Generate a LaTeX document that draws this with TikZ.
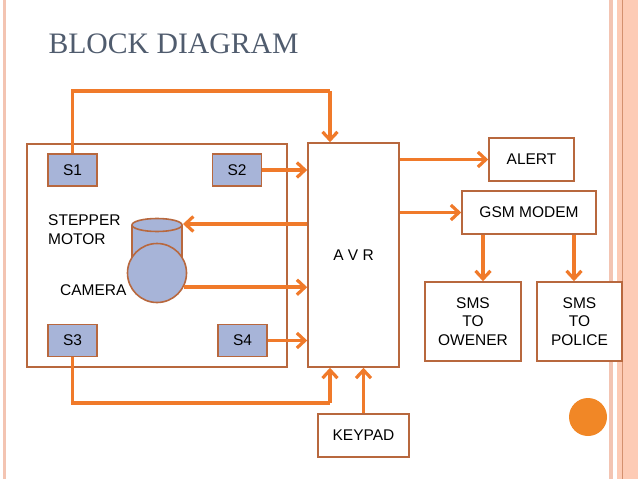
\documentclass[tikz,border=0pt]{standalone}
\usepackage{fontspec}
\setmainfont{Liberation Sans}
\newfontfamily\titlefont{Liberation Serif}
\usetikzlibrary{arrows.meta}
\definecolor{wireOrange}{HTML}{F07A2A}
\definecolor{boxBrown}{HTML}{B8683E}
\definecolor{sensorBlue}{HTML}{A7B4D8}
\definecolor{titleGrey}{HTML}{505C6E}
\definecolor{bandPink}{HTML}{FDCBB5}
\definecolor{linePink}{HTML}{F3C4B2}
\begin{document}
\begin{tikzpicture}
[x=1pt,y=-1pt,
  blockDecorate/.style={shape=rectangle,draw=boxBrown,line width=1.6pt,fill=white,
    inner sep=0pt,align=center,font=\fontsize{15.5}{18.5}\selectfont},%
  sensorDecorate/.style={blockDecorate,fill=sensorBlue,minimum width=49pt,minimum height=32pt},%
  wireDecorate/.style={draw=wireOrange,line width=3.6pt,
    -{Straight Barb[length=8pt,width=15pt,line width=3.2pt]}},%
  labelDecorate/.style={inner sep=0pt,align=left,font=\fontsize{15.5}{19}\selectfont}]
\useasboundingbox (0,0) rectangle (638,479);
%% slide borders
\fill[linePink] (3,0) rectangle (6,479);
\fill[linePink] (609,0) rectangle (613,479);
\fill[bandPink] (617,0) rectangle (638,479);
\draw[boxBrown!60!bandPink,line width=1pt] (622.5,0) -- (622.5,479);
\fill[wireOrange!90!yellow] (588,417) circle (19);
%% title
\node (title) at (45,44) [anchor=west,text=titleGrey,font=\titlefont\fontsize{29.7}{32}\selectfont] {BLOCK DIAGRAM};
%% nodes or blocks
\node (frame) at (157,255.5) [blockDecorate,minimum width=260pt,minimum height=223pt] {};
\node (s1) at (72.5,170) [sensorDecorate] {S1};
\node (s2) at (237,170) [sensorDecorate] {S2};
\node (s3) at (72.5,340.5) [sensorDecorate] {S3};
\node (s4) at (242.5,340.5) [sensorDecorate] {S4};
\node (avr) at (353.5,255) [blockDecorate,minimum width=91pt,minimum height=224pt] {A V R};
\node (alert) at (531.5,159.5) [blockDecorate,minimum width=85pt,minimum height=43pt] {ALERT};
\node (gsm) at (529,212.5) [blockDecorate,minimum width=134pt,minimum height=43pt] {GSM MODEM};
\node (owner) at (473,321.5) [blockDecorate,minimum width=96pt,minimum height=79pt] {SMS\\TO\\OWENER};
\node (police) at (579.5,321.5) [blockDecorate,minimum width=85pt,minimum height=79pt] {SMS\\TO\\POLICE};
\node (keypad) at (363.5,435.5) [blockDecorate,minimum width=91pt,minimum height=43pt] {KEYPAD};
%% stepper motor and camera
\filldraw[fill=sensorBlue,draw=boxBrown,line width=1.6pt] (132,225) -- (132,268) -- (182,268) -- (182,225);
\filldraw[fill=sensorBlue,draw=boxBrown,line width=1.6pt] (157,225) ellipse (25 and 6.5);
\node (cam) at (157,273) [shape=circle,draw=boxBrown,line width=1.6pt,fill=sensorBlue,minimum size=59pt,inner sep=0pt] {};
\coordinate (cyl) at (183,224);
\node (motorlabel) at (48,230) [labelDecorate,anchor=west] {STEPPER\\MOTOR};
\node (camlabel) at (60,290) [labelDecorate,anchor=west] {CAMERA};
%% bends
\coordinate (topbend) at (330,91);
\coordinate (botbend) at (330,403);
%% edges or wires
\path[wireDecorate,-] (s1.north) |- (topbend);
\path (topbend) edge[wireDecorate] (topbend |- avr.north);
\path (s2.east) edge[wireDecorate] (s2.east -| avr.west);
\path (avr.west |- cyl) edge[wireDecorate] (cyl);
\path (cam.-28) edge[wireDecorate] (cam.-28 -| avr.west);
\path (s4.east) edge[wireDecorate] (s4.east -| avr.west);
\path[wireDecorate,-] (s3.south) |- (botbend);
\path (botbend) edge[wireDecorate] (botbend |- avr.south);
\path (keypad.north) edge[wireDecorate] (keypad.north |- avr.south);
\path (alert.west -| avr.east) edge[wireDecorate] (alert.west);
\path (gsm.west -| avr.east) edge[wireDecorate] (gsm.west);
\path ([xshift=10pt]owner.north |- gsm.south) edge[wireDecorate] ([xshift=10pt]owner.north);
\path ([xshift=-5.5pt]police.north |- gsm.south) edge[wireDecorate] ([xshift=-5.5pt]police.north);
\end{tikzpicture}
\end{document}
